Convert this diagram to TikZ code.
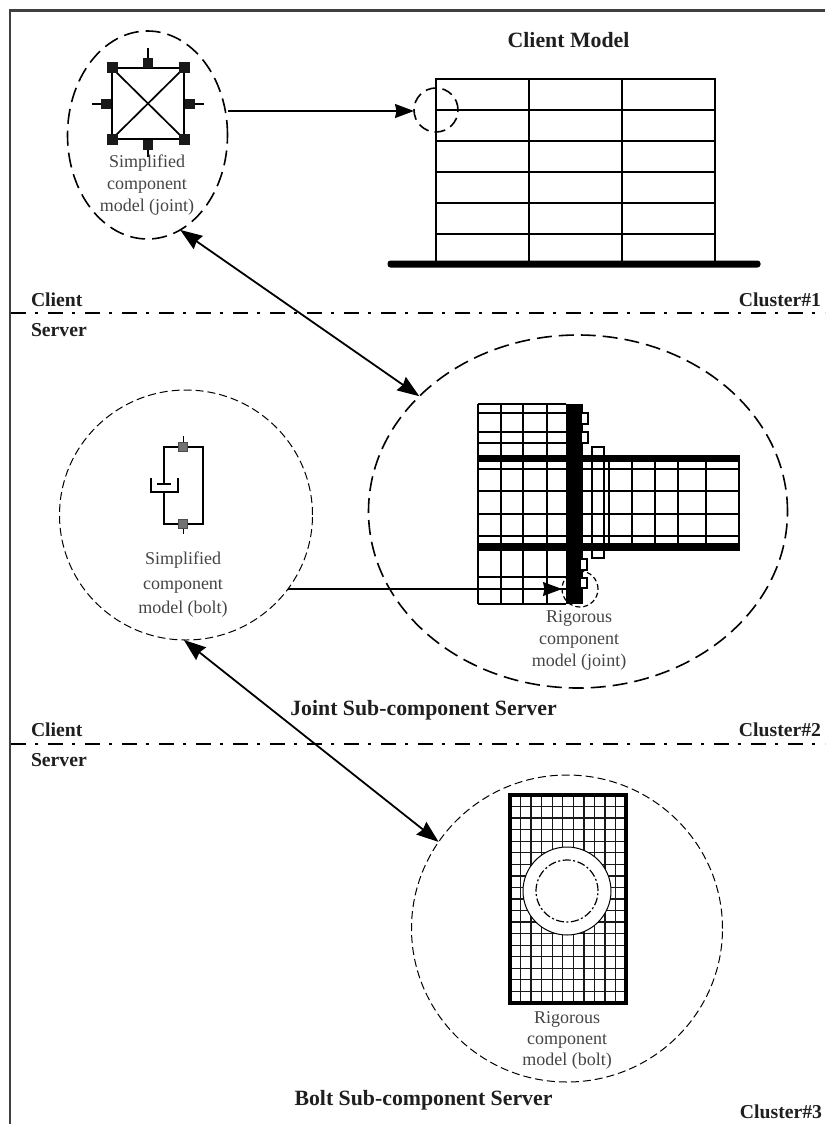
\documentclass[tikz,border=0pt]{standalone}
\usepackage{fontspec}
\setmainfont{Liberation Serif}
\usetikzlibrary{shapes.geometric,arrows.meta,calc}
\definecolor{soft}{gray}{0.27}
\tikzset{
  x=1pt,y=-1pt,
  every node/.style={inner sep=0pt,outer sep=0pt},
  bigell/.style={ellipse,draw,dash pattern=on 15pt off 7pt,line width=1.6pt},
  thinell/.style={ellipse,draw,dash pattern=on 8pt off 4pt,line width=1pt},
  oneway/.style={-{Stealth[length=19pt,width=14pt,inset=1.5pt]},line width=1.5pt},
  twoway/.style={{Stealth[length=22pt,width=16pt,inset=2pt]}-{Stealth[length=22pt,width=16pt,inset=2pt]},line width=1.8pt},
  divider/.style={line width=2pt,dash pattern=on 15pt off 9pt on 2.5pt off 10.5pt},
  boldlab/.style={font=\bfseries\fontsize{19.7}{22}\selectfont,text=black!88},
  widelab/.style={boldlab,font=\bfseries\fontsize{21.8}{24}\selectfont},
  caption/.style={font=\fontsize{18}{22}\selectfont,text=soft,align=center},
  mesh/.style={line width=1.6pt},
  pad/.style={rectangle,fill=black!90,minimum size=#1},
  greypad/.style={rectangle,draw=black!70,fill=black!55,line width=0.5pt,minimum size=9pt},
  bolthead/.style={draw,line width=1.2pt,fill=white}
}
\begin{document}
\begin{tikzpicture}
\useasboundingbox (0,0) rectangle (825,1124);
\fill[white] (0,0) rectangle (825,1124);
% frame
\draw[line width=2.5pt,black!75] (10,1124) -- (10,10.5) -- (825,10.5);
% dividers
\coordinate (d1a) at (11,313); \coordinate (d1b) at (825,313);
\coordinate (d2a) at (11,744); \coordinate (d2b) at (825,744);
\draw[divider] (d1a) -- (d1b);
\draw[divider] (d2a) -- (d2b);
% labels
\node[widelab] (tClientModel) at (568.5,40) {Client Model};
\node[boldlab,anchor=west] (tClient1) at (31,300) {Client};
\node[boldlab,anchor=east] (tCluster1) at (821,300) {Cluster\#1};
\node[boldlab,anchor=west] (tServer1) at (31,330) {Server};
\node[boldlab,anchor=west] (tClient2) at (31,730) {Client};
\node[boldlab,anchor=east] (tCluster2) at (821,730) {Cluster\#2};
\node[boldlab,anchor=west] (tServer2) at (31,760) {Server};
\node[widelab] (tJoint) at (423.5,710) {Joint Sub-component Server};
\node[widelab] (tBolt) at (423.5,1100) {Bolt Sub-component Server};
\node[boldlab,anchor=east] (tCluster3) at (822,1112) {Cluster\#3};
% ellipses
\node[bigell,minimum width=160pt,minimum height=208pt] (eJoint) at (147.5,135) {};
\node[bigell,minimum width=44pt,minimum height=44pt,dash pattern=on 11pt off 6pt] (eDetail) at (436,110) {};
\node[bigell,minimum width=419pt,minimum height=353pt] (eRigid) at (578,511.5) {};
\node[thinell,minimum width=253pt,minimum height=250pt] (eBoltS) at (186,515) {};
\node[thinell,minimum width=311pt,minimum height=307pt] (eBoltR) at (567,928.5) {};
% joint symbol
\coordinate (sq1) at (112,68); \coordinate (sq2) at (184,68);
\coordinate (sq3) at (184,139); \coordinate (sq4) at (112,139);
\draw[line width=1.7pt] (sq1) -- (sq2) -- (sq3) -- (sq4) -- cycle (sq1) -- (sq3) (sq2) -- (sq4);
\draw[line width=1.2pt] (148,48) -- (148,63) (148,145) -- (148,157) (92,104) -- (106,104) (190,104) -- (204,104);
\foreach \n/\p in {c1/sq1,c2/sq2,c3/sq3,c4/sq4}{\node[pad=11pt] (\n) at (\p) {};}
\node[pad=10pt] (p1) at (148,63) {};
\node[pad=10pt] (p2) at (148,145) {};
\node[pad=10pt] (p3) at (106,104) {};
\node[pad=10pt] (p4) at (190,104) {};
\node[caption] (capJoint) at (147,185) {Simplified\\component\\model (joint)};
% building
\draw[line width=1.7pt] (436,79) rectangle (715,262);
\foreach \y in {110,141,172,203,234}{\draw[line width=1.6pt] (436,\y) -- (715,\y);}
\foreach \x in {529,622}{\draw[line width=1.6pt] (\x,79) -- (\x,262);}
\node[rectangle,fill=black,rounded corners=3pt,minimum width=373pt,minimum height=7pt] (ground) at (574,264) {};
% connectors
\coordinate (aStart) at (228,111);
\draw[oneway] (aStart) -- (eDetail.west |- aStart);
\draw[twoway] (eJoint.-71) -- (eRigid.144);
\draw[twoway] (eBoltS.-91) -- (eBoltR.146);
% spring-damper
\draw[line width=1.5pt] (164,484) -- (164,447) -- (203,447) -- (203,524) -- (164,524) -- (164,492);
\draw[line width=1.5pt] (151,478) -- (151,492) -- (178,492) -- (178,478);
\draw[line width=2pt] (157,484) -- (171,484);
\draw[line width=1pt] (183,436) -- (183,447) (183,524) -- (183,534);
\node[greypad] (g1) at (183,447) {};
\node[greypad] (g2) at (183,524) {};
\node[caption,font=\fontsize{18}{24.5}\selectfont] (capBoltS) at (183,585) {Simplified\\component\\model (bolt)};
% rigorous joint
\foreach \y in {404,413,432,443,469,491,514,536,577,589,604}{\draw[mesh] (478,\y) -- (566,\y);}
\foreach \x in {478,501,523,547}{\draw[mesh] (\x,404) -- (\x,604);}
\foreach \y in {469,491,514,536}{\draw[mesh] (583,\y) -- (740,\y);}
\foreach \x in {592,604,609,632,655,678,706,739}{\draw[mesh] (\x,458) -- (\x,547);}
\fill[black] (566,404) rectangle (583,604);
\fill[black] (478,455) rectangle (740,461.5);
\fill[black] (478,543) rectangle (740,551);
\draw[line width=1.3pt] (592,447) rectangle (604,558);
\draw[bolthead] (581,413) rectangle (588,424);
\draw[bolthead] (581,432) rectangle (588,443);
\draw[bolthead] (580,559) rectangle (587,570);
\draw[bolthead] (580,578) rectangle (587,588);
\node[thinell,minimum width=36pt,minimum height=36pt,dash pattern=on 5pt off 3pt,line width=1.2pt] (eDetail2) at (580,589) {};
\coordinate (bStart) at (288,589);
\draw[oneway,line width=1.1pt] (bStart) -- (eDetail2.west);
\node[caption] (capRigid) at (579,640.5) {Rigorous\\component\\model (joint)};
% rigorous bolt
\foreach \i in {1,...,10}{\draw[line width=1.3pt,black!90] ({510+\i*10.55},795) -- ({510+\i*10.55},1003);}
\foreach \i in {1,...,17}{\draw[line width=1.3pt,black!90] (510,{795+\i*11.55}) -- (626,{795+\i*11.55});}
\draw[line width=3.2pt] (510,795) rectangle (626,1003);
\node[circle,draw,fill=white,line width=1pt,minimum size=88pt] (hole) at (567,891) {};
\node[circle,draw,line width=1.2pt,dash pattern=on 8pt off 2.5pt on 2pt off 2.5pt,minimum size=62pt] (shank) at (567,891) {};
\node[caption,font=\fontsize{18}{21}\selectfont] (capBoltR) at (567,1040) {Rigorous\\component\\model (bolt)};
\end{tikzpicture}
\end{document}
